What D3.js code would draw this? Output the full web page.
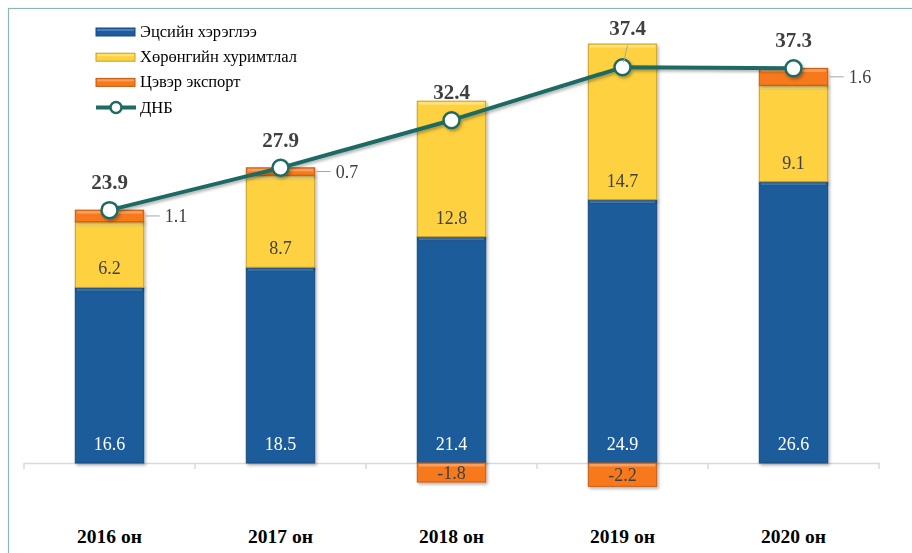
<!DOCTYPE html>
<html>
<head>
<meta charset="utf-8">
<script src="https://cdn.jsdelivr.net/npm/d3@7"></script>
<style>
  body { margin: 0; background: #fff; }
  svg text { font-family: "Liberation Serif", "Times New Roman", serif; }
</style>
</head>
<body>
<svg id="chart" width="912" height="553"></svg>
<script>
var years = ["2016 он", "2017 он", "2018 он", "2019 он", "2020 он"];
var consumption = [16.6, 18.5, 21.4, 24.9, 26.6];
var investment = [6.2, 8.7, 12.8, 14.7, 9.1];
var netExport = [1.1, 0.7, -1.8, -2.2, 1.6];
var gdp = [23.9, 27.9, 32.4, 37.4, 37.3];
var seriesNames = ["Эцсийн хэрэглээ", "Хөрөнгийн хуримтлал", "Цэвэр экспорт", "ДНБ"];

var colors = [
  {fill: "#1d5b9a", edge: "#164a80", light: "#5189c6"},
  {fill: "#fdd13f", edge: "#c9a02a", light: "#ffe889"},
  {fill: "#f7791d", edge: "#c45b12", light: "#fca766"}
];
var lineColor = "#1d6b64";

var svg = d3.select("#chart");

// shadow filter
var defs = svg.append("defs");
var f = defs.append("filter").attr("id", "shadow")
  .attr("x", "-20%").attr("y", "-20%").attr("width", "140%").attr("height", "160%");
f.append("feDropShadow").attr("dx", 1.5).attr("dy", 2).attr("stdDeviation", 1.5)
  .attr("flood-color", "#000").attr("flood-opacity", 0.3);

// frame
svg.append("rect")
  .attr("x", 8.5).attr("y", 8.5).attr("width", 1000).attr("height", 1000)
  .attr("fill", "none").attr("stroke", "#8fb5b2").attr("stroke-width", 1.2);

var rows = years.map(function(y, i) {
  return {year: y, c: consumption[i], inv: investment[i], nx: netExport[i]};
});

var stack = d3.stack().keys(["c", "inv", "nx"]).offset(d3.stackOffsetDiverging);
var stacked = stack(rows);

var x = d3.scaleBand().domain(years).range([24, 879]).paddingInner(0.6).paddingOuter(0.3);
var y = d3.scaleLinear().domain([0, 40]).range([463, 39.8]);

// axis
var axis = svg.append("g")
  .attr("transform", "translate(0," + y(0) + ")")
  .call(d3.axisBottom(x).tickSize(0).tickPadding(66).tickSizeOuter(0));
axis.select(".domain").attr("stroke", "#d9d9d9").attr("stroke-width", 1.5);
axis.selectAll(".tick text")
  .attr("font-size", "19.5px").attr("font-weight", "bold").attr("fill", "#000")
  .attr("font-family", "Liberation Serif, serif");

// category boundary ticks
var bounds = d3.range(years.length + 1).map(function(i) { return 24 + i * x.step(); });
svg.append("g").selectAll("line").data(bounds).enter().append("line")
  .attr("x1", function(d) { return d; }).attr("x2", function(d) { return d; })
  .attr("y1", y(0)).attr("y2", y(0) + 6)
  .attr("stroke", "#d9d9d9").attr("stroke-width", 1.5);

// bars
var bw = x.bandwidth();
stacked.forEach(function(s, si) {
  var g = svg.append("g").attr("filter", "url(#shadow)");
  s.forEach(function(d, i) {
    var top = y(Math.max(d[0], d[1])), bot = y(Math.min(d[0], d[1]));
    var x0 = x(years[i]);
    g.append("rect")
      .attr("x", x0).attr("y", top).attr("width", bw).attr("height", bot - top)
      .attr("fill", colors[si].fill).attr("stroke", colors[si].edge).attr("stroke-width", 1);
    g.append("rect")
      .attr("x", x0 + 1.5).attr("y", top + 1).attr("width", bw - 3).attr("height", 2.5)
      .attr("fill", colors[si].light).attr("opacity", 0.85);
  });
});

// bar labels
stacked.forEach(function(s, si) {
  s.forEach(function(d, i) {
    var v = d.data[s.key];
    var cx = x(years[i]) + bw / 2;
    if (si < 2) {
      svg.append("text")
        .attr("x", cx).attr("y", y(d[0]) - 13)
        .attr("text-anchor", "middle").attr("font-size", "18px")
        .attr("fill", si === 0 ? "#fff" : "#404040")
        .text(v.toFixed(1));
    } else if (v < 0) {
      svg.append("text")
        .attr("x", cx).attr("y", (y(d[0]) + y(d[1])) / 2 + 6)
        .attr("text-anchor", "middle").attr("font-size", "18px")
        .attr("fill", "#404040").text(v.toFixed(1));
    } else {
      var my = (y(d[0]) + y(d[1])) / 2;
      var rx = x(years[i]) + bw;
      svg.append("line")
        .attr("x1", rx + 2).attr("x2", rx + 16).attr("y1", my).attr("y2", my)
        .attr("stroke", "#a6a6a6").attr("stroke-width", 1);
      svg.append("text")
        .attr("x", rx + 21).attr("y", my + 6)
        .attr("font-size", "18px").attr("fill", "#404040").text(v.toFixed(1));
    }
  });
});

// GDP line
var line = d3.line()
  .x(function(d, i) { return x(years[i]) + bw / 2; })
  .y(function(d) { return y(d); });

var lg = svg.append("g").attr("filter", "url(#shadow)");
lg.append("path").datum(gdp)
  .attr("fill", "none").attr("stroke", lineColor).attr("stroke-width", 4)
  .attr("stroke-linejoin", "round").attr("d", line);
lg.selectAll("circle").data(gdp).enter().append("circle")
  .attr("cx", function(d, i) { return x(years[i]) + bw / 2; })
  .attr("cy", function(d) { return y(d); })
  .attr("r", 8).attr("fill", "#fff").attr("stroke", lineColor).attr("stroke-width", 2.5);

// GDP labels (2019 label was moved up with a leader line)
var nudge = {3: [5, -11]};
gdp.forEach(function(v, i) {
  var cx = x(years[i]) + bw / 2, cy = y(v);
  var n = nudge[i] || [0, 0];
  if (nudge[i]) {
    svg.append("line")
      .attr("x1", cx + n[0]).attr("y1", cy - 22).attr("x2", cx + 1).attr("y2", cy - 5)
      .attr("stroke", "#a6a6a6").attr("stroke-width", 1);
  }
  svg.append("text")
    .attr("x", cx + n[0]).attr("y", cy - 21 + n[1])
    .attr("text-anchor", "middle").attr("font-size", "21px").attr("font-weight", "bold")
    .attr("fill", "#404040").text(v.toFixed(1));
});

// legend
var leg = svg.append("g");
seriesNames.forEach(function(name, i) {
  var cy = 32 + i * 25.2;
  if (i < 3) {
    leg.append("rect").attr("x", 96).attr("y", cy - 4).attr("width", 39).attr("height", 8)
      .attr("fill", colors[i].fill).attr("stroke", colors[i].edge).attr("stroke-width", 1);
    leg.append("rect").attr("x", 97).attr("y", cy - 3).attr("width", 37).attr("height", 2)
      .attr("fill", colors[i].light).attr("opacity", 0.8);
  } else {
    leg.append("line").attr("x1", 96).attr("x2", 136).attr("y1", cy).attr("y2", cy)
      .attr("stroke", lineColor).attr("stroke-width", 4);
    leg.append("circle").attr("cx", 116).attr("cy", cy).attr("r", 5.5)
      .attr("fill", "#fff").attr("stroke", lineColor).attr("stroke-width", 2.5);
  }
  leg.append("text").attr("x", 140).attr("y", cy + 5)
    .attr("font-size", "16.5px").attr("fill", "#000").text(name);
});
</script>
</body>
</html>
